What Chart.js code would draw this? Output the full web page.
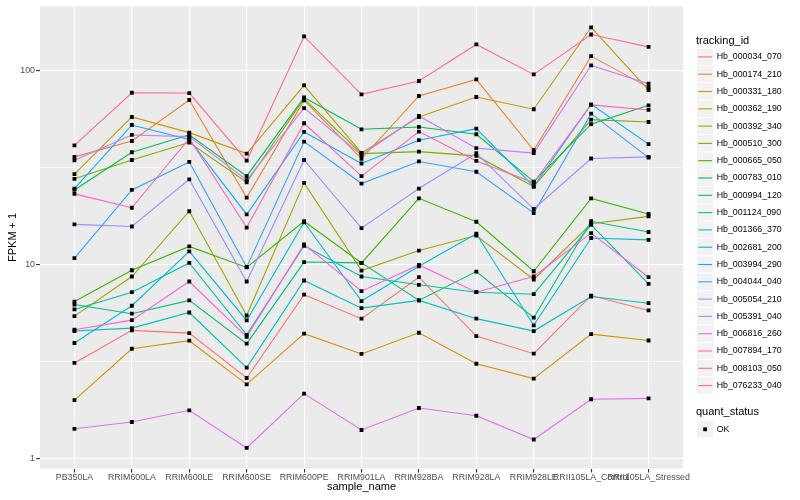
<!DOCTYPE html>
<html><head><meta charset="utf-8">
<script src="https://cdn.jsdelivr.net/npm/chart.js@4.4.1/dist/chart.umd.min.js"></script>
<style>html,body{margin:0;padding:0;background:#fff}canvas{display:block}</style>
</head><body>
<canvas id="c" width="800" height="500"></canvas>
<script>
const categories = ["PB350LA","RRIM600LA","RRIM600LE","RRIM600SE","RRIM600PE","RRIM901LA","RRIM928BA","RRIM928LA","RRIM928LE","RRII105LA_Control","RRII105LA_Stressed"];
const yTickValues = [1, 3.1623, 10, 31.623, 100];
const yTickLabels = {1: "1", 10: "10", 100: "100"};

const Hb_000034_070 = [3.12, 4.59, 4.44, 2.61, 7.0, 5.27, 8.61, 4.29, 3.48, 6.93, 5.81];
const Hb_000174_210 = [35.8, 43.2, 70.2, 22.1, 69.8, 35.0, 73.6, 89.6, 38.7, 118, 81.5];
const Hb_000331_180 = [2.01, 3.69, 4.06, 2.42, 4.41, 3.47, 4.46, 3.09, 2.59, 4.39, 4.07];
const Hb_000362_190 = [29.2, 57.4, 47.7, 37.2, 83.5, 37.5, 57.4, 72.7, 62.9, 166, 79.0];
const Hb_000392_340 = [5.43, 8.68, 18.8, 5.47, 26.3, 9.31, 11.8, 14.1, 8.38, 16.2, 17.7];
const Hb_000510_300 = [27.6, 34.5, 42.4, 26.5, 71.2, 37.2, 38.1, 36.2, 25.2, 55.6, 54.1];
const Hb_000665_050 = [6.45, 9.35, 12.4, 9.67, 16.7, 10.2, 21.9, 16.6, 9.24, 21.9, 18.2];
const Hb_000783_010 = [24.2, 37.8, 46.5, 28.5, 72.3, 49.6, 51.0, 46.8, 26.7, 52.7, 65.9];
const Hb_000994_120 = [6.23, 5.59, 6.54, 3.92, 10.3, 10.2, 6.54, 9.2, 5.33, 16.7, 14.7];
const Hb_001124_090 = [5.88, 7.21, 10.2, 4.35, 12.5, 8.68, 7.87, 7.21, 7.04, 16.0, 7.96];
const Hb_001366_370 = [4.55, 4.71, 5.67, 2.95, 8.28, 5.97, 6.54, 5.27, 4.55, 6.85, 6.33];
const Hb_002681_200 = [3.95, 6.14, 11.7, 5.16, 16.5, 6.49, 9.8, 14.4, 4.87, 13.7, 13.4];
const Hb_003994_290 = [24.6, 52.2, 44.0, 18.1, 48.1, 33.1, 43.6, 50.0, 25.2, 66.7, 41.6];
const Hb_004044_040 = [10.8, 24.2, 33.7, 9.7, 42.9, 26.1, 33.9, 30.0, 18.4, 59.7, 35.5];
const Hb_005054_210 = [16.1, 15.7, 27.4, 8.18, 34.5, 15.4, 24.6, 37.4, 19.3, 35.1, 35.8];
const Hb_005391_040 = [34.4, 46.4, 45.5, 27.2, 63.8, 36.6, 58.1, 39.7, 37.4, 105.7, 85.1];
const Hb_006816_260 = [1.43, 1.55, 1.78, 1.14, 2.17, 1.41, 1.83, 1.67, 1.26, 2.03, 2.05];
const Hb_007894_170 = [4.62, 5.18, 8.18, 4.25, 12.7, 7.3, 9.96, 7.21, 8.68, 14.5, 8.61];
const Hb_008103_050 = [23.1, 19.6, 44.5, 15.5, 53.3, 28.5, 48.3, 34.1, 26.4, 66.2, 62.4];
const Hb_076233_040 = [41, 76.5, 76.2, 34.2, 149, 75, 87.9, 135.5, 95, 152.4, 131.7];

const seriesNames = ["Hb_000034_070","Hb_000174_210","Hb_000331_180","Hb_000362_190","Hb_000392_340","Hb_000510_300","Hb_000665_050","Hb_000783_010","Hb_000994_120","Hb_001124_090","Hb_001366_370","Hb_002681_200","Hb_003994_290","Hb_004044_040","Hb_005054_210","Hb_005391_040","Hb_006816_260","Hb_007894_170","Hb_008103_050","Hb_076233_040"];
const seriesValues = [Hb_000034_070,Hb_000174_210,Hb_000331_180,Hb_000362_190,Hb_000392_340,Hb_000510_300,Hb_000665_050,Hb_000783_010,Hb_000994_120,Hb_001124_090,Hb_001366_370,Hb_002681_200,Hb_003994_290,Hb_004044_040,Hb_005054_210,Hb_005391_040,Hb_006816_260,Hb_007894_170,Hb_008103_050,Hb_076233_040];
const palette = ["#F8766D","#EA8331","#D89000","#C09B00","#A3A500","#7CAE00","#39B600","#00BB4E","#00BF7D","#00C1A3","#00BFC4","#00BAE0","#00B0F6","#35A2FF","#9590FF","#C77CFF","#E76BF3","#FA62DB","#FF62BC","#FF6C91"];

const FONT = '"Liberation Sans", Arial, Helvetica, sans-serif';
Chart.defaults.font.family = FONT;

const isMajorY = v => v === 1 || v === 10 || v === 100;

const datasets = [];
// points layer (drawn on top of all lines)
datasets.push({
  label: "OK",
  data: seriesValues.flatMap(vals => vals.map((v, i) => ({x: i, y: v}))),
  showLine: false,
  pointStyle: "rect",
  pointRadius: 2.7,
  pointBackgroundColor: "#000000",
  pointBorderWidth: 0,
  order: 0
});
seriesValues.forEach((vals, s) => {
  datasets.push({
    label: seriesNames[s],
    data: vals.map((v, i) => ({x: i, y: v})),
    borderColor: palette[s],
    borderWidth: 1.1,
    pointRadius: 0,
    tension: 0,
    fill: false,
    order: 100 - s
  });
});

const ggPlugin = {
  id: "ggPlugin",
  beforeDraw(chart) {
    const {ctx, chartArea: a} = chart;
    ctx.save();
    ctx.fillStyle = "#EBEBEB";
    ctx.fillRect(a.left, a.top, a.right - a.left, a.bottom - a.top);
    ctx.restore();
  },
  afterDraw(chart) {
    const ctx = chart.ctx;
    ctx.save();
    ctx.textBaseline = "middle";
    ctx.textAlign = "left";
    ctx.fillStyle = "#000";
    ctx.font = "11px " + FONT;
    ctx.fillText("tracking_id", 696, 40.5);
    const keyX = 696.5, key = 17.3, firstC = 56.9;
    seriesNames.forEach((n, i) => {
      const cy = firstC + i * key;
      const y = cy - key / 2;
      ctx.fillStyle = "#F2F2F2";
      ctx.fillRect(keyX, y, key, key);
      ctx.strokeStyle = "#FFFFFF";
      ctx.lineWidth = 1;
      ctx.strokeRect(keyX, y, key, key);
      ctx.strokeStyle = palette[i];
      ctx.lineWidth = 1.1;
      ctx.beginPath();
      ctx.moveTo(keyX + 1.7, cy);
      ctx.lineTo(keyX + key - 1.7, cy);
      ctx.stroke();
      ctx.fillStyle = "#000";
      ctx.font = "8.8px " + FONT;
      ctx.fillText(n, 716.7, cy);
    });
    ctx.font = "11px " + FONT;
    ctx.fillStyle = "#000";
    ctx.fillText("quant_status", 696, 412.3);
    const qc = 429.3;
    ctx.fillStyle = "#F2F2F2";
    ctx.fillRect(keyX, qc - key / 2, key, key);
    ctx.strokeStyle = "#FFFFFF";
    ctx.strokeRect(keyX, qc - key / 2, key, key);
    ctx.fillStyle = "#000";
    ctx.fillRect(keyX + key / 2 - 1.9, qc - 1.9, 3.8, 3.8);
    ctx.font = "8.8px " + FONT;
    ctx.fillText("OK", 716.7, qc);
    ctx.restore();
  }
};

new Chart(document.getElementById("c"), {
  type: "line",
  data: {datasets},
  plugins: [ggPlugin],
  options: {
    responsive: false,
    devicePixelRatio: 1,
    animation: false,
    events: [],
    layout: {padding: {left: 0, right: 117, top: 5, bottom: 0}},
    plugins: {legend: {display: false}, tooltip: {enabled: false}},
    scales: {
      x: {
        type: "linear",
        min: -0.6,
        max: 10.6,
        bounds: "data",
        afterBuildTicks: axis => { axis.ticks = categories.map((c, i) => ({value: i})); },
        afterFit: axis => { axis.height = 31.5; },
        ticks: {
          autoSkip: false,
          maxRotation: 0,
          minRotation: 0,
          padding: 0,
          color: "#4D4D4D",
          font: {size: 8.8},
          callback: v => categories[v]
        },
        grid: {color: "#FFFFFF", lineWidth: 1.1, tickColor: "#333333", tickLength: 4, tickWidth: 1.1},
        border: {display: false},
        title: {display: true, text: "sample_name", color: "#000", font: {size: 11}, padding: {top: 0, bottom: 6.4}}
      },
      y: {
        type: "logarithmic",
        min: 0.8939,
        max: 212.9,
        bounds: "data",
        afterBuildTicks: axis => { axis.ticks = yTickValues.map(v => ({value: v})); },
        afterFit: axis => { axis.width = 40; },
        ticks: {
          padding: 1,
          color: "#4D4D4D",
          font: {size: 8.8},
          callback: v => yTickLabels[v] || ""
        },
        grid: {
          color: "#FFFFFF",
          lineWidth: c => isMajorY(c.tick.value) ? 1.1 : 0.55,
          tickColor: c => isMajorY(c.tick.value) ? "#333333" : "rgba(0,0,0,0)",
          tickLength: 4,
          tickWidth: 1.1
        },
        border: {display: false},
        title: {display: true, text: "FPKM + 1", color: "#000", font: {size: 11}, padding: {top: 6.4, bottom: 0}}
      }
    }
  }
});
</script>
</body></html>
